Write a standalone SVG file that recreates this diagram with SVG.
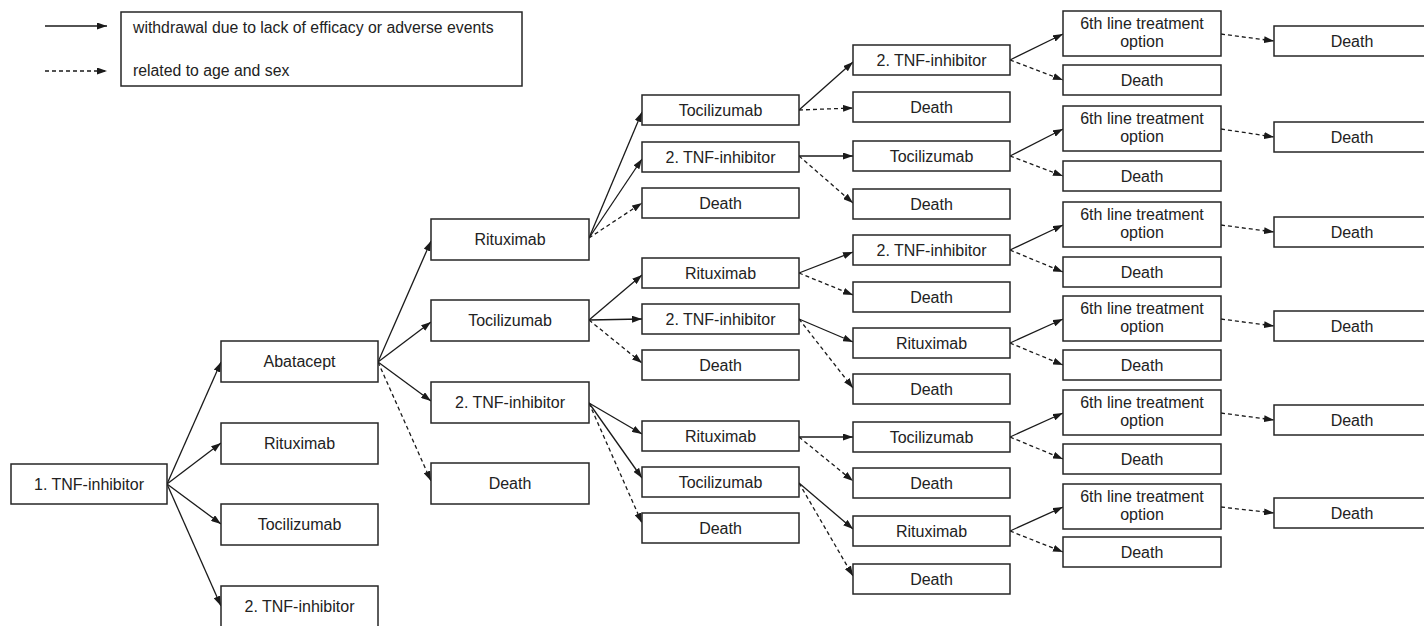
<svg xmlns="http://www.w3.org/2000/svg" width="1424" height="626" viewBox="0 0 1424 626">
<style>
.box{fill:#fff;stroke:#262626;stroke-width:1.5}
.t{font-family:"Liberation Sans",Arial,sans-serif;font-size:16px;fill:#222;text-anchor:middle}
.lt{font-family:"Liberation Sans",Arial,sans-serif;font-size:15.8px;fill:#222}
.s{stroke:#1a1a1a;stroke-width:1.3;fill:none;marker-end:url(#ah)}
.d{stroke:#1a1a1a;stroke-width:1.3;fill:none;stroke-dasharray:4 3;marker-end:url(#ah)}
</style>
<defs>
<marker id="ah" viewBox="0 0 10 7" refX="10" refY="3.5" markerWidth="10" markerHeight="7" markerUnits="userSpaceOnUse" orient="auto">
<path d="M0,0 L10,3.5 L0,7 z" fill="#1a1a1a"/>
</marker>
</defs>
<rect width="1424" height="626" fill="#fff"/>

<g id="legend">
<line class="s" x1="45" y1="26" x2="107" y2="26"/>
<line class="d" x1="45" y1="71" x2="107" y2="71"/>
<rect class="box" x="121" y="12" width="401" height="74"/>
<text class="lt" x="133" y="33">withdrawal due to lack of efficacy or adverse events</text>
<text class="lt" x="133" y="76">related to age and sex</text>
</g>

<g id="connectors">
<line class="s" x1="167" y1="484" x2="221" y2="362"/>
<line class="s" x1="167" y1="484" x2="221" y2="443"/>
<line class="s" x1="167" y1="484" x2="221" y2="524"/>
<line class="s" x1="167" y1="484" x2="221" y2="606"/>
<line class="s" x1="378" y1="362" x2="431" y2="241"/>
<line class="s" x1="378" y1="362" x2="431" y2="322"/>
<line class="s" x1="378" y1="362" x2="431" y2="401"/>
<line class="d" x1="378" y1="362" x2="431" y2="481"/>
<line class="s" x1="589" y1="238" x2="642" y2="112"/>
<line class="s" x1="589" y1="238" x2="642" y2="159"/>
<line class="d" x1="589" y1="238" x2="642" y2="203"/>
<line class="s" x1="589" y1="320" x2="642" y2="275"/>
<line class="s" x1="589" y1="320" x2="642" y2="319"/>
<line class="d" x1="589" y1="320" x2="642" y2="363"/>
<line class="s" x1="589" y1="403" x2="642" y2="434"/>
<line class="s" x1="589" y1="403" x2="642" y2="478"/>
<line class="d" x1="589" y1="403" x2="642" y2="523"/>
<line class="s" x1="799" y1="110" x2="853" y2="62"/>
<line class="d" x1="799" y1="110" x2="853" y2="108"/>
<line class="s" x1="799" y1="156" x2="853" y2="156"/>
<line class="d" x1="799" y1="156" x2="853" y2="203"/>
<line class="s" x1="799" y1="273" x2="853" y2="252"/>
<line class="d" x1="799" y1="273" x2="853" y2="295"/>
<line class="s" x1="799" y1="319" x2="853" y2="342"/>
<line class="d" x1="799" y1="319" x2="853" y2="388"/>
<line class="s" x1="799" y1="437" x2="853" y2="437"/>
<line class="d" x1="799" y1="437" x2="853" y2="481"/>
<line class="s" x1="799" y1="483" x2="853" y2="529"/>
<line class="d" x1="799" y1="483" x2="853" y2="576"/>
<line class="s" x1="1010" y1="60" x2="1063" y2="34"/>
<line class="d" x1="1010" y1="60" x2="1063" y2="80"/>
<line class="s" x1="1010" y1="156" x2="1063" y2="129"/>
<line class="d" x1="1010" y1="156" x2="1063" y2="176"/>
<line class="s" x1="1010" y1="250" x2="1063" y2="225"/>
<line class="d" x1="1010" y1="250" x2="1063" y2="272"/>
<line class="s" x1="1010" y1="343" x2="1063" y2="319"/>
<line class="d" x1="1010" y1="343" x2="1063" y2="365"/>
<line class="s" x1="1010" y1="437" x2="1063" y2="413"/>
<line class="d" x1="1010" y1="437" x2="1063" y2="459"/>
<line class="s" x1="1010" y1="531" x2="1063" y2="507"/>
<line class="d" x1="1010" y1="531" x2="1063" y2="552"/>
<line class="d" x1="1221" y1="34" x2="1274" y2="41"/>
<line class="d" x1="1221" y1="129" x2="1274" y2="137"/>
<line class="d" x1="1221" y1="225" x2="1274" y2="232"/>
<line class="d" x1="1221" y1="319" x2="1274" y2="326"/>
<line class="d" x1="1221" y1="413" x2="1274" y2="420"/>
<line class="d" x1="1221" y1="507" x2="1274" y2="513"/>
</g>

<g id="n0"><rect class="box" x="11" y="464" width="156" height="40"/><text class="t" x="89" y="489.5">1. TNF-inhibitor</text></g>

<g id="n1a"><rect class="box" x="221" y="341" width="157" height="41"/><text class="t" x="299.5" y="367">Abatacept</text></g>
<g id="n1b"><rect class="box" x="221" y="423" width="157" height="41"/><text class="t" x="299.5" y="449">Rituximab</text></g>
<g id="n1c"><rect class="box" x="221" y="504" width="157" height="41"/><text class="t" x="299.5" y="530">Tocilizumab</text></g>
<g id="n1d"><rect class="box" x="221" y="586" width="157" height="41"/><text class="t" x="299.5" y="612">2. TNF-inhibitor</text></g>

<g id="n2a"><rect class="box" x="431" y="219" width="158" height="41"/><text class="t" x="510" y="245">Rituximab</text></g>
<g id="n2b"><rect class="box" x="431" y="300" width="158" height="41"/><text class="t" x="510" y="326">Tocilizumab</text></g>
<g id="n2c"><rect class="box" x="431" y="382" width="158" height="41"/><text class="t" x="510" y="408">2. TNF-inhibitor</text></g>
<g id="n2d"><rect class="box" x="431" y="463" width="158" height="41"/><text class="t" x="510" y="489">Death</text></g>

<g id="n3a"><rect class="box" x="642" y="95" width="157" height="30"/><text class="t" x="720.5" y="115.5">Tocilizumab</text></g>
<g id="n3b"><rect class="box" x="642" y="142" width="157" height="30"/><text class="t" x="720.5" y="162.5">2. TNF-inhibitor</text></g>
<g id="n3c"><rect class="box" x="642" y="188" width="157" height="30"/><text class="t" x="720.5" y="208.5">Death</text></g>
<g id="n3d"><rect class="box" x="642" y="258" width="157" height="30"/><text class="t" x="720.5" y="278.5">Rituximab</text></g>
<g id="n3e"><rect class="box" x="642" y="304" width="157" height="30"/><text class="t" x="720.5" y="324.5">2. TNF-inhibitor</text></g>
<g id="n3f"><rect class="box" x="642" y="350" width="157" height="30"/><text class="t" x="720.5" y="370.5">Death</text></g>
<g id="n3g"><rect class="box" x="642" y="421" width="157" height="30"/><text class="t" x="720.5" y="441.5">Rituximab</text></g>
<g id="n3h"><rect class="box" x="642" y="467" width="157" height="30"/><text class="t" x="720.5" y="487.5">Tocilizumab</text></g>
<g id="n3i"><rect class="box" x="642" y="513" width="157" height="30"/><text class="t" x="720.5" y="533.5">Death</text></g>

<g id="n4a"><rect class="box" x="853" y="45" width="157" height="30"/><text class="t" x="931.5" y="65.5">2. TNF-inhibitor</text></g>
<g id="n4b"><rect class="box" x="853" y="92" width="157" height="30"/><text class="t" x="931.5" y="112.5">Death</text></g>
<g id="n4c"><rect class="box" x="853" y="141" width="157" height="30"/><text class="t" x="931.5" y="161.5">Tocilizumab</text></g>
<g id="n4d"><rect class="box" x="853" y="189" width="157" height="30"/><text class="t" x="931.5" y="209.5">Death</text></g>
<g id="n4e"><rect class="box" x="853" y="235" width="157" height="30"/><text class="t" x="931.5" y="255.5">2. TNF-inhibitor</text></g>
<g id="n4f"><rect class="box" x="853" y="282" width="157" height="30"/><text class="t" x="931.5" y="302.5">Death</text></g>
<g id="n4g"><rect class="box" x="853" y="328" width="157" height="30"/><text class="t" x="931.5" y="348.5">Rituximab</text></g>
<g id="n4h"><rect class="box" x="853" y="374" width="157" height="30"/><text class="t" x="931.5" y="394.5">Death</text></g>
<g id="n4i"><rect class="box" x="853" y="422" width="157" height="30"/><text class="t" x="931.5" y="442.5">Tocilizumab</text></g>
<g id="n4j"><rect class="box" x="853" y="468" width="157" height="30"/><text class="t" x="931.5" y="488.5">Death</text></g>
<g id="n4k"><rect class="box" x="853" y="516" width="157" height="30"/><text class="t" x="931.5" y="536.5">Rituximab</text></g>
<g id="n4l"><rect class="box" x="853" y="564" width="157" height="30"/><text class="t" x="931.5" y="584.5">Death</text></g>

<g id="n5a"><rect class="box" x="1063" y="11" width="158" height="45"/><text class="t" x="1142" y="29">6th line treatment</text><text class="t" x="1142" y="47">option</text></g>
<g id="n5b"><rect class="box" x="1063" y="65" width="158" height="30"/><text class="t" x="1142" y="85.5">Death</text></g>
<g id="n5c"><rect class="box" x="1063" y="106" width="158" height="45"/><text class="t" x="1142" y="124">6th line treatment</text><text class="t" x="1142" y="142">option</text></g>
<g id="n5d"><rect class="box" x="1063" y="161" width="158" height="30"/><text class="t" x="1142" y="181.5">Death</text></g>
<g id="n5e"><rect class="box" x="1063" y="202" width="158" height="45"/><text class="t" x="1142" y="220">6th line treatment</text><text class="t" x="1142" y="238">option</text></g>
<g id="n5f"><rect class="box" x="1063" y="257" width="158" height="30"/><text class="t" x="1142" y="277.5">Death</text></g>
<g id="n5g"><rect class="box" x="1063" y="296" width="158" height="45"/><text class="t" x="1142" y="314">6th line treatment</text><text class="t" x="1142" y="332">option</text></g>
<g id="n5h"><rect class="box" x="1063" y="350" width="158" height="30"/><text class="t" x="1142" y="370.5">Death</text></g>
<g id="n5i"><rect class="box" x="1063" y="390" width="158" height="45"/><text class="t" x="1142" y="408">6th line treatment</text><text class="t" x="1142" y="426">option</text></g>
<g id="n5j"><rect class="box" x="1063" y="444" width="158" height="30"/><text class="t" x="1142" y="464.5">Death</text></g>
<g id="n5k"><rect class="box" x="1063" y="484" width="158" height="45"/><text class="t" x="1142" y="502">6th line treatment</text><text class="t" x="1142" y="520">option</text></g>
<g id="n5l"><rect class="box" x="1063" y="537" width="158" height="30"/><text class="t" x="1142" y="557.5">Death</text></g>

<g id="n6a"><rect class="box" x="1274" y="26" width="157" height="30"/><text class="t" x="1352" y="46.5">Death</text></g>
<g id="n6b"><rect class="box" x="1274" y="122" width="157" height="30"/><text class="t" x="1352" y="142.5">Death</text></g>
<g id="n6c"><rect class="box" x="1274" y="217" width="157" height="30"/><text class="t" x="1352" y="237.5">Death</text></g>
<g id="n6d"><rect class="box" x="1274" y="311" width="157" height="30"/><text class="t" x="1352" y="331.5">Death</text></g>
<g id="n6e"><rect class="box" x="1274" y="405" width="157" height="30"/><text class="t" x="1352" y="425.5">Death</text></g>
<g id="n6f"><rect class="box" x="1274" y="498" width="157" height="30"/><text class="t" x="1352" y="518.5">Death</text></g>
</svg>
